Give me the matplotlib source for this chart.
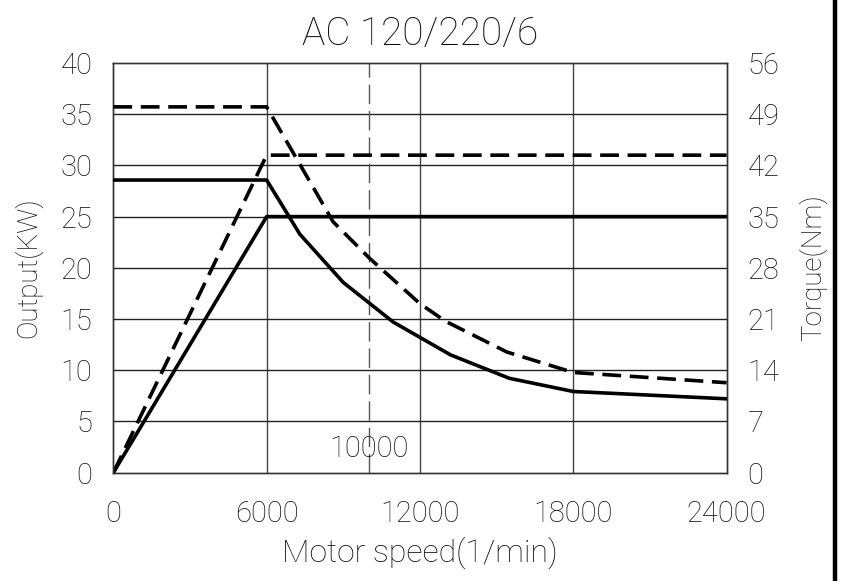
import matplotlib
matplotlib.use('Agg')
import matplotlib.pyplot as plt
from matplotlib.lines import Line2D

plt.rcParams['font.family'] = ['Roboto', 'DejaVu Sans']
plt.rcParams['font.weight'] = 'light'
plt.rcParams['axes.titleweight'] = 'light'
plt.rcParams['axes.labelweight'] = 'light'

# power curves (KW) - left axis
speed_power = [0, 6000, 24000]
power_s1 = [0, 25, 25]
power_s6 = [0, 31, 31]

# torque curves (Nm) - right axis
speed_torque_s1 = [0, 6000, 7300, 9000, 10950, 13200, 15500, 18000, 24000]
torque_s1 = [40, 40, 32.6, 26.0, 20.6, 16.1, 12.9, 11.1, 10.1]
speed_torque_s6 = [0, 6000, 8600, 10000, 12000, 13000, 15400, 18000, 24000]
torque_s6 = [50, 50, 34.3, 29.4, 23.1, 20.7, 16.5, 13.7, 12.3]

x_ticks = [0, 6000, 12000, 18000, 24000]
y_ticks = [0, 5, 10, 15, 20, 25, 30, 35, 40]
y2_ticks = [0, 7, 14, 21, 28, 35, 42, 49, 56]
base_speed = 10000

fs = 21
txt = '#111111'
fig = plt.figure(figsize=(8.47, 5.81), dpi=100)
ax = fig.add_axes([0.1338, 0.1864, 0.724, 0.7052])
ax2 = ax.twinx()

# grid
for xv in x_ticks[1:-1]:
    ax.axvline(xv, color='#444444', lw=1.0, zorder=1)
for yv in y_ticks[1:-1]:
    ax.axhline(yv, color='#222222', lw=1.0, zorder=1)
ax.axvline(base_speed, color='#555555', lw=1.0, dashes=(14, 5), zorder=1)
ax.text(base_speed, 2.35, str(base_speed), ha='center', va='center',
        fontsize=fs, color=txt)

ax.plot(speed_power, power_s1, color='black', lw=2.6, zorder=3)
ax.plot(speed_power, power_s6, color='black', lw=2.6, dashes=(5.2, 2.4), zorder=3)
ax2.plot(speed_torque_s1, torque_s1, color='black', lw=2.6, zorder=3)
ax2.plot(speed_torque_s6, torque_s6, color='black', lw=2.6, dashes=(5.2, 2.4), zorder=3)

ax.set_xlim(0, 24000)
ax.set_ylim(0, 40)
ax2.set_ylim(0, 56)
ax.set_xticks(x_ticks)
ax.set_yticks(y_ticks)
ax2.set_yticks(y2_ticks)
ax.tick_params(axis='both', length=0, labelsize=fs, labelcolor=txt)
ax.tick_params(axis='y', pad=15)
ax.tick_params(axis='x', pad=20)
ax2.tick_params(axis='y', length=0, labelsize=fs, pad=15, labelcolor=txt)

for a in (ax, ax2):
    for s in a.spines.values():
        s.set_linewidth(1.0)
        s.set_color('#333333')

ax.set_title('AC 120/220/6', fontsize=28, pad=13, color=txt)
ax.set_xlabel('Motor speed(1/min)', fontsize=23, labelpad=6, color=txt)
ax.set_ylabel('Output(KW)', fontsize=20, labelpad=13, color=txt)
ax2.set_ylabel('Torque(Nm)', fontsize=20, labelpad=14, color=txt)

# thick frame line at the right edge
fig.add_artist(Line2D([835 / 847, 835 / 847], [0, 1], color='black', lw=3.2,
                      transform=fig.transFigure))

fig.savefig('out.png', dpi=100)
